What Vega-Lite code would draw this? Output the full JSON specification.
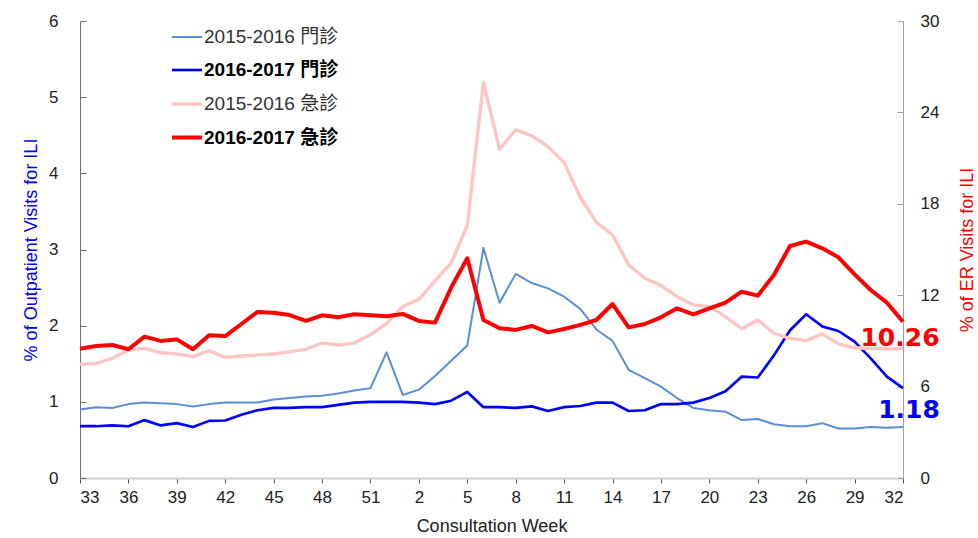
{
  "$schema": "https://vega.github.io/schema/vega-lite/v6.json",
  "width": 823,
  "height": 457,
  "autosize": {"type": "none"},
  "padding": {"left": 80, "top": 21, "right": 75, "bottom": 60},
  "background": "white",
  "config": {
    "view": {"stroke": null},
    "font": "Liberation Sans",
    "axis": {"grid": false, "labelFont": "Liberation Sans", "titleFont": "Liberation Sans", "labelFontSize": 17, "titleFontSize": 18, "labelColor": "#222", "titleFontWeight": "normal"}
  },
  "datasets": {
    "opd": [
      {"i":0,"week":33,"series":"2015-2016 門診","value":0.90},{"i":1,"week":34,"series":"2015-2016 門診","value":0.93},{"i":2,"week":35,"series":"2015-2016 門診","value":0.92},{"i":3,"week":36,"series":"2015-2016 門診","value":0.97},{"i":4,"week":37,"series":"2015-2016 門診","value":0.99},{"i":5,"week":38,"series":"2015-2016 門診","value":0.98},{"i":6,"week":39,"series":"2015-2016 門診","value":0.97},{"i":7,"week":40,"series":"2015-2016 門診","value":0.94},{"i":8,"week":41,"series":"2015-2016 門診","value":0.97},{"i":9,"week":42,"series":"2015-2016 門診","value":0.99},{"i":10,"week":43,"series":"2015-2016 門診","value":0.99},{"i":11,"week":44,"series":"2015-2016 門診","value":0.99},{"i":12,"week":45,"series":"2015-2016 門診","value":1.03},{"i":13,"week":46,"series":"2015-2016 門診","value":1.05},{"i":14,"week":47,"series":"2015-2016 門診","value":1.07},{"i":15,"week":48,"series":"2015-2016 門診","value":1.08},{"i":16,"week":49,"series":"2015-2016 門診","value":1.11},{"i":17,"week":50,"series":"2015-2016 門診","value":1.15},{"i":18,"week":51,"series":"2015-2016 門診","value":1.18},{"i":19,"week":52,"series":"2015-2016 門診","value":1.65},{"i":20,"week":1,"series":"2015-2016 門診","value":1.09},{"i":21,"week":2,"series":"2015-2016 門診","value":1.16},{"i":22,"week":3,"series":"2015-2016 門診","value":1.34},{"i":23,"week":4,"series":"2015-2016 門診","value":1.54},{"i":24,"week":5,"series":"2015-2016 門診","value":1.74},{"i":25,"week":6,"series":"2015-2016 門診","value":3.02},{"i":26,"week":7,"series":"2015-2016 門診","value":2.30},{"i":27,"week":8,"series":"2015-2016 門診","value":2.68},{"i":28,"week":9,"series":"2015-2016 門診","value":2.56},{"i":29,"week":10,"series":"2015-2016 門診","value":2.49},{"i":30,"week":11,"series":"2015-2016 門診","value":2.38},{"i":31,"week":12,"series":"2015-2016 門診","value":2.22},{"i":32,"week":13,"series":"2015-2016 門診","value":1.95},{"i":33,"week":14,"series":"2015-2016 門診","value":1.80},{"i":34,"week":15,"series":"2015-2016 門診","value":1.42},{"i":35,"week":16,"series":"2015-2016 門診","value":1.31},{"i":36,"week":17,"series":"2015-2016 門診","value":1.20},{"i":37,"week":18,"series":"2015-2016 門診","value":1.05},{"i":38,"week":19,"series":"2015-2016 門診","value":0.92},{"i":39,"week":20,"series":"2015-2016 門診","value":0.89},{"i":40,"week":21,"series":"2015-2016 門診","value":0.87},{"i":41,"week":22,"series":"2015-2016 門診","value":0.76},{"i":42,"week":23,"series":"2015-2016 門診","value":0.775},{"i":43,"week":24,"series":"2015-2016 門診","value":0.705},{"i":44,"week":25,"series":"2015-2016 門診","value":0.68},{"i":45,"week":26,"series":"2015-2016 門診","value":0.68},{"i":46,"week":27,"series":"2015-2016 門診","value":0.72},{"i":47,"week":28,"series":"2015-2016 門診","value":0.65},{"i":48,"week":29,"series":"2015-2016 門診","value":0.65},{"i":49,"week":30,"series":"2015-2016 門診","value":0.67},{"i":50,"week":31,"series":"2015-2016 門診","value":0.66},{"i":51,"week":32,"series":"2015-2016 門診","value":0.67},
      {"i":0,"week":33,"series":"2016-2017 門診","value":0.68},{"i":1,"week":34,"series":"2016-2017 門診","value":0.68},{"i":2,"week":35,"series":"2016-2017 門診","value":0.69},{"i":3,"week":36,"series":"2016-2017 門診","value":0.68},{"i":4,"week":37,"series":"2016-2017 門診","value":0.76},{"i":5,"week":38,"series":"2016-2017 門診","value":0.69},{"i":6,"week":39,"series":"2016-2017 門診","value":0.72},{"i":7,"week":40,"series":"2016-2017 門診","value":0.67},{"i":8,"week":41,"series":"2016-2017 門診","value":0.75},{"i":9,"week":42,"series":"2016-2017 門診","value":0.755},{"i":10,"week":43,"series":"2016-2017 門診","value":0.83},{"i":11,"week":44,"series":"2016-2017 門診","value":0.89},{"i":12,"week":45,"series":"2016-2017 門診","value":0.92},{"i":13,"week":46,"series":"2016-2017 門診","value":0.92},{"i":14,"week":47,"series":"2016-2017 門診","value":0.93},{"i":15,"week":48,"series":"2016-2017 門診","value":0.93},{"i":16,"week":49,"series":"2016-2017 門診","value":0.96},{"i":17,"week":50,"series":"2016-2017 門診","value":0.99},{"i":18,"week":51,"series":"2016-2017 門診","value":1.00},{"i":19,"week":52,"series":"2016-2017 門診","value":1.00},{"i":20,"week":1,"series":"2016-2017 門診","value":1.00},{"i":21,"week":2,"series":"2016-2017 門診","value":0.99},{"i":22,"week":3,"series":"2016-2017 門診","value":0.97},{"i":23,"week":4,"series":"2016-2017 門診","value":1.015},{"i":24,"week":5,"series":"2016-2017 門診","value":1.13},{"i":25,"week":6,"series":"2016-2017 門診","value":0.93},{"i":26,"week":7,"series":"2016-2017 門診","value":0.93},{"i":27,"week":8,"series":"2016-2017 門診","value":0.92},{"i":28,"week":9,"series":"2016-2017 門診","value":0.94},{"i":29,"week":10,"series":"2016-2017 門診","value":0.88},{"i":30,"week":11,"series":"2016-2017 門診","value":0.93},{"i":31,"week":12,"series":"2016-2017 門診","value":0.945},{"i":32,"week":13,"series":"2016-2017 門診","value":0.99},{"i":33,"week":14,"series":"2016-2017 門診","value":0.99},{"i":34,"week":15,"series":"2016-2017 門診","value":0.88},{"i":35,"week":16,"series":"2016-2017 門診","value":0.89},{"i":36,"week":17,"series":"2016-2017 門診","value":0.97},{"i":37,"week":18,"series":"2016-2017 門診","value":0.97},{"i":38,"week":19,"series":"2016-2017 門診","value":0.99},{"i":39,"week":20,"series":"2016-2017 門診","value":1.05},{"i":40,"week":21,"series":"2016-2017 門診","value":1.14},{"i":41,"week":22,"series":"2016-2017 門診","value":1.33},{"i":42,"week":23,"series":"2016-2017 門診","value":1.32},{"i":43,"week":24,"series":"2016-2017 門診","value":1.61},{"i":44,"week":25,"series":"2016-2017 門診","value":1.94},{"i":45,"week":26,"series":"2016-2017 門診","value":2.15},{"i":46,"week":27,"series":"2016-2017 門診","value":1.99},{"i":47,"week":28,"series":"2016-2017 門診","value":1.93},{"i":48,"week":29,"series":"2016-2017 門診","value":1.79},{"i":49,"week":30,"series":"2016-2017 門診","value":1.57},{"i":50,"week":31,"series":"2016-2017 門診","value":1.33},{"i":51,"week":32,"series":"2016-2017 門診","value":1.18}
    ],
    "er": [
      {"i":0,"week":33,"series":"2015-2016 急診","value":7.46},{"i":1,"week":34,"series":"2015-2016 急診","value":7.53},{"i":2,"week":35,"series":"2015-2016 急診","value":7.86},{"i":3,"week":36,"series":"2015-2016 急診","value":8.40},{"i":4,"week":37,"series":"2015-2016 急診","value":8.51},{"i":5,"week":38,"series":"2015-2016 急診","value":8.23},{"i":6,"week":39,"series":"2015-2016 急診","value":8.14},{"i":7,"week":40,"series":"2015-2016 急診","value":7.97},{"i":8,"week":41,"series":"2015-2016 急診","value":8.36},{"i":9,"week":42,"series":"2015-2016 急診","value":7.92},{"i":10,"week":43,"series":"2015-2016 急診","value":8.01},{"i":11,"week":44,"series":"2015-2016 急診","value":8.08},{"i":12,"week":45,"series":"2015-2016 急診","value":8.14},{"i":13,"week":46,"series":"2015-2016 急診","value":8.29},{"i":14,"week":47,"series":"2015-2016 急診","value":8.45},{"i":15,"week":48,"series":"2015-2016 急診","value":8.86},{"i":16,"week":49,"series":"2015-2016 急診","value":8.73},{"i":17,"week":50,"series":"2015-2016 急診","value":8.86},{"i":18,"week":51,"series":"2015-2016 急診","value":9.40},{"i":19,"week":52,"series":"2015-2016 急診","value":10.15},{"i":20,"week":1,"series":"2015-2016 急診","value":11.25},{"i":21,"week":2,"series":"2015-2016 急診","value":11.73},{"i":22,"week":3,"series":"2015-2016 急診","value":12.95},{"i":23,"week":4,"series":"2015-2016 急診","value":14.10},{"i":24,"week":5,"series":"2015-2016 急診","value":16.58},{"i":25,"week":6,"series":"2015-2016 急診","value":25.96},{"i":26,"week":7,"series":"2015-2016 急診","value":21.58},{"i":27,"week":8,"series":"2015-2016 急診","value":22.85},{"i":28,"week":9,"series":"2015-2016 急診","value":22.46},{"i":29,"week":10,"series":"2015-2016 急診","value":21.75},{"i":30,"week":11,"series":"2015-2016 急診","value":20.70},{"i":31,"week":12,"series":"2015-2016 急診","value":18.43},{"i":32,"week":13,"series":"2015-2016 急診","value":16.79},{"i":33,"week":14,"series":"2015-2016 急診","value":15.96},{"i":34,"week":15,"series":"2015-2016 急診","value":13.99},{"i":35,"week":16,"series":"2015-2016 急診","value":13.11},{"i":36,"week":17,"series":"2015-2016 急診","value":12.63},{"i":37,"week":18,"series":"2015-2016 急診","value":11.91},{"i":38,"week":19,"series":"2015-2016 急診","value":11.36},{"i":39,"week":20,"series":"2015-2016 急診","value":11.25},{"i":40,"week":21,"series":"2015-2016 急診","value":10.59},{"i":41,"week":22,"series":"2015-2016 急診","value":9.80},{"i":42,"week":23,"series":"2015-2016 急診","value":10.37},{"i":43,"week":24,"series":"2015-2016 急診","value":9.50},{"i":44,"week":25,"series":"2015-2016 急診","value":9.17},{"i":45,"week":26,"series":"2015-2016 急診","value":9.02},{"i":46,"week":27,"series":"2015-2016 急診","value":9.46},{"i":47,"week":28,"series":"2015-2016 急診","value":8.80},{"i":48,"week":29,"series":"2015-2016 急診","value":8.55},{"i":49,"week":30,"series":"2015-2016 急診","value":8.50},{"i":50,"week":31,"series":"2015-2016 急診","value":8.48},{"i":51,"week":32,"series":"2015-2016 急診","value":8.50},
      {"i":0,"week":33,"series":"2016-2017 急診","value":8.49},{"i":1,"week":34,"series":"2016-2017 急診","value":8.67},{"i":2,"week":35,"series":"2016-2017 急診","value":8.73},{"i":3,"week":36,"series":"2016-2017 急診","value":8.45},{"i":4,"week":37,"series":"2016-2017 急診","value":9.28},{"i":5,"week":38,"series":"2016-2017 急診","value":9.00},{"i":6,"week":39,"series":"2016-2017 急診","value":9.10},{"i":7,"week":40,"series":"2016-2017 急診","value":8.45},{"i":8,"week":41,"series":"2016-2017 急診","value":9.37},{"i":9,"week":42,"series":"2016-2017 急診","value":9.32},{"i":10,"week":43,"series":"2016-2017 急診","value":10.11},{"i":11,"week":44,"series":"2016-2017 急診","value":10.90},{"i":12,"week":45,"series":"2016-2017 急診","value":10.85},{"i":13,"week":46,"series":"2016-2017 急診","value":10.70},{"i":14,"week":47,"series":"2016-2017 急診","value":10.31},{"i":15,"week":48,"series":"2016-2017 急診","value":10.68},{"i":16,"week":49,"series":"2016-2017 急診","value":10.55},{"i":17,"week":50,"series":"2016-2017 急診","value":10.75},{"i":18,"week":51,"series":"2016-2017 急診","value":10.68},{"i":19,"week":52,"series":"2016-2017 急診","value":10.62},{"i":20,"week":1,"series":"2016-2017 急診","value":10.77},{"i":21,"week":2,"series":"2016-2017 急診","value":10.31},{"i":22,"week":3,"series":"2016-2017 急診","value":10.20},{"i":23,"week":4,"series":"2016-2017 急診","value":12.5},{"i":24,"week":5,"series":"2016-2017 急診","value":14.42},{"i":25,"week":6,"series":"2016-2017 急診","value":10.37},{"i":26,"week":7,"series":"2016-2017 急診","value":9.83},{"i":27,"week":8,"series":"2016-2017 急診","value":9.72},{"i":28,"week":9,"series":"2016-2017 急診","value":9.98},{"i":29,"week":10,"series":"2016-2017 急診","value":9.56},{"i":30,"week":11,"series":"2016-2017 急診","value":9.78},{"i":31,"week":12,"series":"2016-2017 急診","value":10.05},{"i":32,"week":13,"series":"2016-2017 急診","value":10.37},{"i":33,"week":14,"series":"2016-2017 急診","value":11.42},{"i":34,"week":15,"series":"2016-2017 急診","value":9.89},{"i":35,"week":16,"series":"2016-2017 急診","value":10.11},{"i":36,"week":17,"series":"2016-2017 急診","value":10.55},{"i":37,"week":18,"series":"2016-2017 急診","value":11.14},{"i":38,"week":19,"series":"2016-2017 急診","value":10.74},{"i":39,"week":20,"series":"2016-2017 急診","value":11.13},{"i":40,"week":21,"series":"2016-2017 急診","value":11.51},{"i":41,"week":22,"series":"2016-2017 急診","value":12.23},{"i":42,"week":23,"series":"2016-2017 急診","value":11.97},{"i":43,"week":24,"series":"2016-2017 急診","value":13.33},{"i":44,"week":25,"series":"2016-2017 急診","value":15.23},{"i":45,"week":26,"series":"2016-2017 急診","value":15.52},{"i":46,"week":27,"series":"2016-2017 急診","value":15.08},{"i":47,"week":28,"series":"2016-2017 急診","value":14.49},{"i":48,"week":29,"series":"2016-2017 急診","value":13.37},{"i":49,"week":30,"series":"2016-2017 急診","value":12.34},{"i":50,"week":31,"series":"2016-2017 急診","value":11.51},{"i":51,"week":32,"series":"2016-2017 急診","value":10.26}
    ]
  },
  "encoding": {
    "x": {
      "field": "i", "type": "quantitative",
      "scale": {"domain": [0, 51], "nice": false, "zero": false},
      "axis": {
        "title": "Consultation Week",
        "values": [0,3,6,9,12,15,18,21,24,27,30,33,36,39,42,45,48,51],
        "labelExpr": "datum.value < 20 ? datum.value + 33 : datum.value - 19",
        "labelFontSize": 17, "titleFontSize": 18, "titleFontWeight": "normal",
        "domainColor": "#cfcfcf", "domainWidth": 2,
        "tickColor": "#555", "tickSize": 5, "labelPadding": 6,
        "titlePadding": 12, "titleColor": "#222"
      }
    }
  },
  "layer": [
    {
      "data": {"name": "opd"},
      "encoding": {
        "y": {
          "field": "value", "type": "quantitative",
          "scale": {"domain": [0, 6], "nice": false},
          "axis": {
            "title": "% of Outpatient Visits for ILI", "titleColor": "#0000FF",
            "labelFontSize": 17, "titleFontSize": 18, "titleFontWeight": "normal",
            "values": [0,1,2,3,4,5,6], "format": "d",
            "domainColor": "#707070", "tickColor": "#707070",
            "tickSize": -6, "labelPadding": 28, "titlePadding": 8
          }
        }
      },
      "layer": [
        {
          "mark": {"type": "line", "strokeJoin": "round"},
          "encoding": {
            "color": {
              "field": "series", "type": "nominal",
              "scale": {
                "domain": ["2015-2016 門診", "2016-2017 門診", "2015-2016 急診", "2016-2017 急診"],
                "range": ["#5A8ED6", "#0000FF", "#FFC4C4", "#FF0000"]
              },
              "legend": {
                "title": null, "orient": "none", "legendX": 90, "legendY": 0,
                "symbolType": "stroke", "symbolSize": 900, "symbolStrokeWidth": 2,
                "labelFont": "Liberation Sans, Noto Sans CJK TC", "labelFontSize": 19,
                "labelColor": "#222", "labelOffset": 0, "rowPadding": 6.5, "padding": 0,
                "encode": {
                  "labels": {"update": {"fontWeight": {"signal": "indexof(datum.label, '2016-2017') >= 0 ? 'bold' : 'normal'"}, "fill": {"signal": "indexof(datum.label, '2016-2017') >= 0 ? '#000000' : '#333333'"}}},
                  "symbols": {"update": {"strokeWidth": {"signal": "indexof(datum.label, '2016-2017') >= 0 ? 4 : 2"}}}
                }
              }
            },
            "strokeWidth": {
              "field": "series", "type": "ordinal",
              "scale": {"domain": ["2015-2016 門診", "2016-2017 門診", "2015-2016 急診", "2016-2017 急診"], "range": [2, 4, 1.75, 4]},
              "legend": null
            }
          }
        },
        {
          "transform": [{"filter": "datum.i == 51 && datum.series == '2016-2017 門診'"}],
          "mark": {"type": "text", "font": "DejaVu Sans", "fontWeight": "bold", "fontSize": 25, "color": "#0000FF", "dx": 6, "dy": 22, "align": "center", "baseline": "middle"},
          "encoding": {"text": {"field": "value", "type": "quantitative", "format": ".2f"}}
        }
      ]
    },
    {
      "data": {"name": "er"},
      "encoding": {
        "y": {
          "field": "value", "type": "quantitative",
          "scale": {"domain": [0, 30], "nice": false},
          "axis": {
            "orient": "right",
            "title": "% of ER Visits for ILI", "titleColor": "#FF0000", "titleAngle": 270,
            "labelFontSize": 17, "titleFontSize": 18, "titleFontWeight": "normal",
            "values": [0,6,12,18,24,30], "format": "d",
            "domainColor": "#a0a0a0", "tickColor": "#a0a0a0",
            "tickSize": -6, "labelPadding": 23, "titlePadding": 38
          }
        }
      },
      "layer": [
        {
          "mark": {"type": "line", "strokeJoin": "round"},
          "encoding": {
            "color": {"field": "series", "type": "nominal"},
            "strokeWidth": {"field": "series", "type": "ordinal", "legend": null}
          }
        },
        {
          "transform": [{"filter": "datum.i == 51 && datum.series == '2016-2017 急診'"}],
          "mark": {"type": "text", "font": "DejaVu Sans", "fontWeight": "bold", "fontSize": 25, "color": "#FF0000", "dx": -3, "dy": 16, "align": "center", "baseline": "middle"},
          "encoding": {"text": {"field": "value", "type": "quantitative", "format": ".2f"}}
        }
      ]
    }
  ],
  "resolve": {"scale": {"y": "independent"}}
}
